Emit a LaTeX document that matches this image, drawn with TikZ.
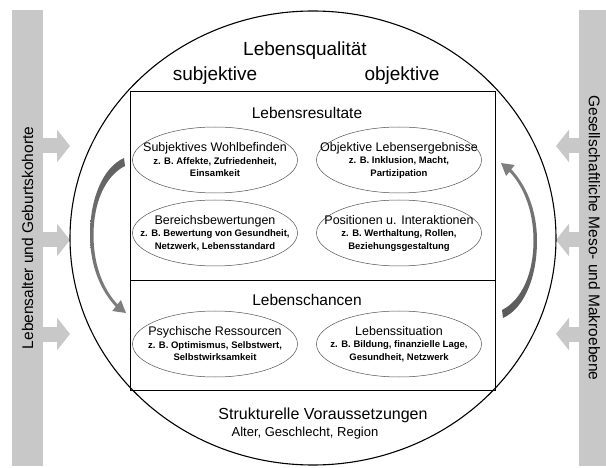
\documentclass[tikz,border=0pt]{standalone}
\usepackage{fontspec}
\setmainfont{Liberation Sans}
\usetikzlibrary{shapes.geometric,arrows.meta}
\definecolor{barfill}{HTML}{C8C8C8}
\definecolor{ovalline}{HTML}{505050}
\newcommand{\ovaltext}[3]{\makebox[0pt]{\mdseries\fontsize{12.5}{13}\selectfont #1}\\ \makebox[0pt]{#2}\\ \makebox[0pt]{#3}}

\begin{document}
\begin{tikzpicture}[x=1pt,y=-1pt,node distance=73pt]
\tikzstyle{bar}=[fill=barfill,minimum width=456pt,minimum height=31pt,inner sep=0pt,font=\fontsize{15.5}{18}\selectfont]
\tikzstyle{oval}=[draw=ovalline,ellipse,line width=0.5pt,minimum width=165pt,minimum height=66pt,inner sep=0pt,align=center,font=\bfseries\fontsize{9.5}{12.5}\selectfont]
\tikzstyle{title}=[font=\fontsize{15.5}{18}\selectfont]
\tikzstyle{big}=[font=\fontsize{19}{22}\selectfont]
\tikzstyle{sidearrow}=[draw=barfill,line width=15pt,-{Triangle[length=13pt,width=32pt]}]
\useasboundingbox (0,0) rectangle (606,468);

% side bars
\node[bar,rotate=90] (lbar) at (27.5,238) {Lebensalter und Geburtskohorte};
\node[bar,rotate=-90] (rbar) at (594.5,238) {Gesellschaftliche Meso- und Makroebene};
\foreach \y [count=\i] in {146,240,334} {
  \coordinate (la\i) at (42,\y);
  \coordinate (lb\i) at (70,\y);
  \coordinate (ra\i) at (580,\y);
  \coordinate (rb\i) at (556,\y);
  \draw[sidearrow] (la\i) -- (lb\i);
  \draw[sidearrow] (ra\i) -- (rb\i);
}

% Lebensqualitaet
\node[draw,ellipse,line width=1.1pt,minimum width=486pt,minimum height=454pt,inner sep=0pt] (lq) at (313,238) {};
\draw[line width=0.9pt] (130,91) rectangle (495,390);
\draw[line width=0.9pt] (130,280) -- (495,280);

\node[big] (lql) at (305,51) {Lebensqualität};
\node[big] (subj) at (215,76) {subjektive};
\node[big] (obj) at (402,76) {objektive};
\node[title] (res) at (307,113) {Lebensresultate};
\node[title] (cha) at (307,300) {Lebenschancen};
\node[font=\fontsize{16}{18}\selectfont] (struk) at (323,415) {Strukturelle Voraussetzungen};
\node[font=\fontsize{13}{15}\selectfont] (alter) at (305,433) {Alter, Geschlecht, Region};

% ovals
\node[oval] (wohl) at (215,160) {\ovaltext{Subjektives Wohlbefinden}{z. B. Affekte, Zufriedenheit,}{Einsamkeit}};
\node[oval,below of=wohl] (bereich) {\ovaltext{Bereichsbewertungen}{z. B. Bewertung von Gesundheit,}{Netzwerk, Lebensstandard}};
\node[oval,right of=wohl,node distance=184pt] (objektiv) {\ovaltext{Objektive Lebensergebnisse}{z. B. Inklusion, Macht,}{Partizipation}};
\node[oval,below of=objektiv] (position) {\ovaltext{Positionen u. Interaktionen}{z. B. Werthaltung, Rollen,}{Beziehungsgestaltung}};
\node[oval,below of=bereich,node distance=111pt] (psych) {\ovaltext{Psychische Ressourcen}{z. B. Optimismus, Selbstwert,}{Selbstwirksamkeit}};
\node[oval,right of=psych,node distance=184pt] (situation) {\ovaltext{Lebenssituation}{z. B. Bildung, finanzielle Lage,}{Gesundheit, Netzwerk}};

% curved arrows
\shade[top color=black!62,middle color=black!32,bottom color=black!50]
  (124,158) .. controls (102,168) and (90,200) .. (90,235)
  .. controls (90,268) and (102,292) .. (115.7,306.7)
  -- (112.3,311) -- (126,313) -- (120.9,300) -- (117.5,304.3)
  .. controls (105,291) and (93.5,268) .. (93.5,235)
  .. controls (93.5,203) and (105,176) .. (125,166) -- cycle;
\shade[top color=black!50,middle color=black!32,bottom color=black!65]
  (503,318) .. controls (525,308) and (537,276) .. (537,241)
  .. controls (537,208) and (525,184) .. (511.3,169.3)
  -- (514.7,165) -- (501,163) -- (506.1,176) -- (509.5,171.7)
  .. controls (522,185) and (533.5,208) .. (533.5,241)
  .. controls (533.5,273) and (522,300) .. (502,310) -- cycle;
\end{tikzpicture}
\end{document}
